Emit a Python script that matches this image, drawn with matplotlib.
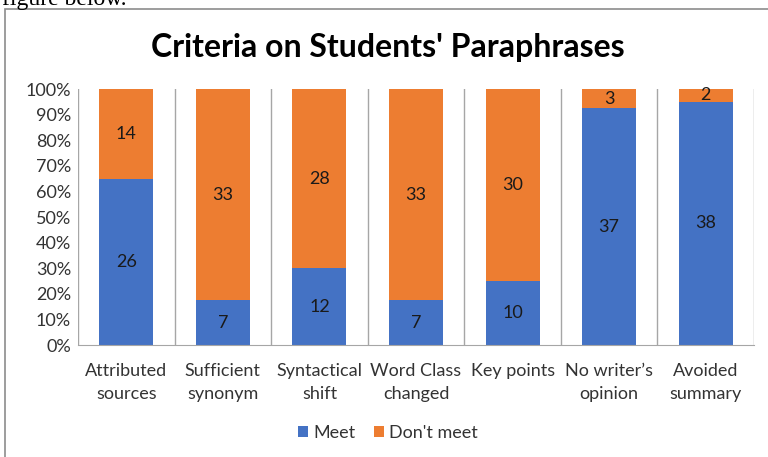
import matplotlib.pyplot as plt
import numpy as np
from matplotlib.patches import Rectangle

categories = ["Attributed\nsources", "Sufficient\nsynonym", "Syntactical\nshift",
              "Word Class\nchanged", "Key points", "No writer\u2019s\nopinion", "Avoided\nsummary"]
meet = [26, 7, 12, 7, 10, 37, 38]
dont_meet = [14, 33, 28, 33, 30, 3, 2]

plt.rcParams['font.family'] = ['Lato', 'DejaVu Sans']

meet = np.array(meet, dtype=float)
dont_meet = np.array(dont_meet, dtype=float)
total = meet + dont_meet
meet_pct = meet / total * 100
dont_pct = dont_meet / total * 100

fs = 13

fig = plt.figure(figsize=(7.68, 4.57), dpi=100)
# chart frame
fig.patches.append(Rectangle((5 / 768, -0.01), 1.0, 1 - 9 / 457 + 0.01,
                             transform=fig.transFigure, fill=False,
                             edgecolor="#8c8c8c", linewidth=1.2))
fig.text(0.002, 1.002, "figure below.", family="Liberation Serif", fontsize=17,
         va="center", ha="left", color="black")

ax = fig.add_axes([78 / 768, 1 - 345 / 457, (754 - 78) / 768, (345 - 89) / 457])
x = np.arange(len(categories))
w = 0.56
ax.bar(x, meet_pct, w, color="#4472C4", label="Meet")
ax.bar(x, dont_pct, w, bottom=meet_pct, color="#ED7D31", label="Don't meet")

for i in range(len(categories)):
    ax.text(x[i], meet_pct[i] / 2, f"{int(meet[i])}", ha="center", va="center",
            fontsize=fs, color="#1a1a1a")
    ax.text(x[i], meet_pct[i] + dont_pct[i] / 2, f"{int(dont_meet[i])}", ha="center",
            va="center", fontsize=fs, color="#1a1a1a")

ax.set_xlim(-0.5, len(categories) - 0.5)
ax.set_ylim(0, 100)
ax.set_yticks(np.arange(0, 101, 10))
ax.set_yticklabels([f"{v}%" for v in range(0, 101, 10)], fontsize=fs, color="#333333")
ax.set_xticks(x)
ax.set_xticklabels(categories, fontsize=fs, color="#333333", linespacing=1.55)
ax.tick_params(axis="x", length=0, pad=13)
ax.tick_params(axis="y", length=0, pad=5)
for s in ["top", "right", "left"]:
    ax.spines[s].set_visible(False)
ax.spines["bottom"].set_color("#a6a6a6")
for b in np.arange(-0.5, len(categories), 1.0):
    ax.axvline(b, color="#a6a6a6", linewidth=1, zorder=0)

fig.text(0.505, 1 - 47 / 457, "Criteria on Students' Paraphrases", ha="center", va="center",
         fontsize=23, fontweight="bold", color="black")

ax.legend(loc="center", bbox_to_anchor=(388 / 768, 1 - 433 / 457),
          bbox_transform=fig.transFigure, ncol=2, frameon=False, fontsize=fs,
          handlelength=0.55, handleheight=0.55, handletextpad=0.3, columnspacing=1.0,
          labelcolor="#333333")

fig.savefig("out.png", dpi=100)
